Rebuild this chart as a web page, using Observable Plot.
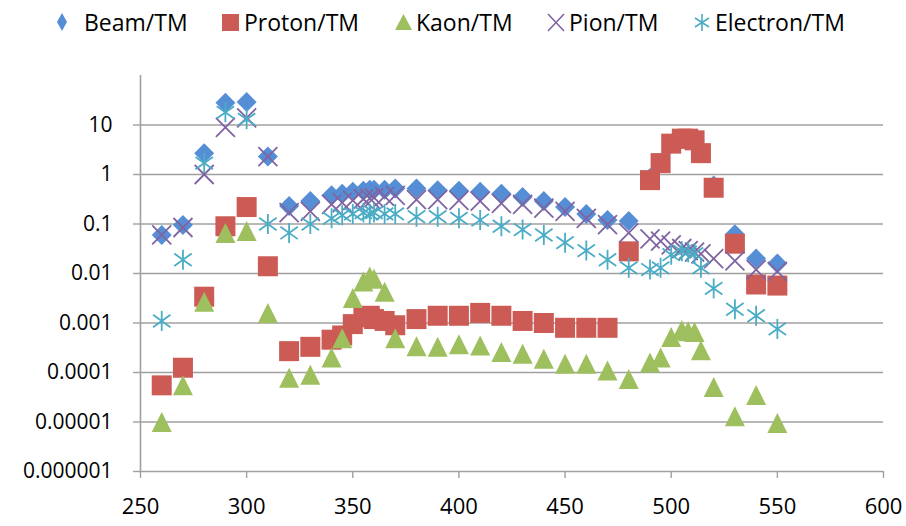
<!DOCTYPE html>
<html><head><meta charset="utf-8">
<script src="https://cdn.jsdelivr.net/npm/d3@7"></script>
<script src="https://cdn.jsdelivr.net/npm/@observablehq/plot@0.6"></script>
<style>
body{margin:0;background:#fff;font-family:"Open Sans",sans-serif;}
#legend{position:relative;height:46px;width:906px;font-size:23px;color:#000;}
.item{position:absolute;top:0;height:44px;display:flex;align-items:center;white-space:nowrap;}
.item svg{display:block;}
#chart svg{display:block;}
</style></head><body>
<div id="legend"></div>
<div id="chart"></div>
<script>
// ---- data ----
const energy = [260,270,280,290,300,310,320,330,340,345,350,355,358,360,365,370,380,390,400,410,420,430,440,450,460,470,480,490,495,500,505,508,511,514,520,530,540,550];
const beam     = [0.06,0.095,2.7,28,29,2.3,0.23,0.29,0.38,0.41,0.45,0.47,0.49,0.49,0.49,0.52,0.52,0.48,0.47,0.45,0.41,0.35,0.29,0.22,0.16,0.12,0.115,0.85,1.7,4.2,5.3,5.3,4.9,2.7,0.6,0.062,0.02,0.016];
const proton   = [5.5e-5,1.25e-4,0.0034,0.09,0.22,0.014,2.7e-4,3.3e-4,4.6e-4,5.6e-4,9.5e-4,0.0013,0.0014,0.0012,0.0011,9e-4,0.0012,0.0014,0.0014,0.0016,0.0014,0.0011,0.001,8e-4,8e-4,8e-4,0.028,0.77,1.7,4.2,5.3,5.3,4.9,2.7,0.54,0.04,0.006,0.0057];
const kaon     = [1e-5,5.5e-5,0.0027,0.066,0.072,0.0016,7.8e-5,9e-5,2.0e-4,4.9e-4,0.0032,0.0069,0.0087,0.0078,0.0043,4.9e-4,3.4e-4,3.3e-4,3.7e-4,3.5e-4,2.6e-4,2.4e-4,1.9e-4,1.5e-4,1.5e-4,1.1e-4,7.4e-5,1.6e-4,2.0e-4,5.2e-4,7.2e-4,6.8e-4,6.6e-4,2.8e-4,5.1e-5,1.3e-5,3.5e-5,9.5e-6];
const pion     = [0.06,0.085,1.0,9,14,2.3,0.17,0.18,0.25,0.27,0.3,0.32,0.33,0.34,0.36,0.38,0.31,0.31,0.3,0.29,0.26,0.25,0.21,0.18,0.13,0.097,0.066,0.05,0.045,0.038,0.032,0.029,0.027,0.025,0.02,0.018,0.012,0.011];
const electron = [0.0011,0.019,1.7,18,13,0.1,0.066,0.1,0.13,0.15,0.16,0.17,0.16,0.17,0.16,0.16,0.14,0.14,0.13,0.12,0.09,0.077,0.06,0.042,0.029,0.019,0.013,0.012,0.013,0.024,0.028,0.027,0.025,0.013,0.005,0.0019,0.0014,0.00076];

const seriesNames  = ["Beam/TM","Proton/TM","Kaon/TM","Pion/TM","Electron/TM"];
const seriesValues = [beam, proton, kaon, pion, electron];
const seriesColors = ["#558ED5","#CC5B55","#9EBF5E","#8064A2","#4BACC6"];

const xTicks = [250,300,350,400,450,500,550,600];
const yTicks = [1e-6,1e-5,1e-4,1e-3,1e-2,1e-1,1,10];
const yTickLabels = ["0.000001","0.00001","0.0001","0.001","0.01","0.1","1","10"];
const yLabel = d => yTickLabels[Math.round(Math.log10(d)) + 6];

// ---- marker shapes ----
function sym(fn){ return {draw(c,size){ fn(c, Math.sqrt(size/Math.PI)); }}; }
const diamondSym = sym((c,h)=>{c.moveTo(0,-h);c.lineTo(h,0);c.lineTo(0,h);c.lineTo(-h,0);c.closePath();});
const squareSym  = sym((c,h)=>{c.moveTo(-h,-h);c.lineTo(h,-h);c.lineTo(h,h);c.lineTo(-h,h);c.closePath();});
const triSym     = sym((c,h)=>{c.moveTo(0,-h);c.lineTo(h,h);c.lineTo(-h,h);c.closePath();});
const timesSym   = sym((c,h)=>{c.moveTo(-h,-h);c.lineTo(h,h);c.moveTo(-h,h);c.lineTo(h,-h);});
const starSym    = sym((c,h)=>{c.moveTo(0,-h);c.lineTo(0,h);c.moveTo(-0.87*h,-0.62*h);c.lineTo(0.87*h,0.62*h);c.moveTo(-0.87*h,0.62*h);c.lineTo(0.87*h,-0.62*h);});
const styles = [
  {symbol:diamondSym, r:10, filled:true},
  {symbol:squareSym,  r:10, filled:true},
  {symbol:triSym,     r:10, filled:true},
  {symbol:timesSym,   r:9.5, filled:false},
  {symbol:starSym,    r:10, filled:false}
];

// ---- legend ----
const legendPos = [[56,84],[221,244],[394,416],[547,569],[693,715]];
const legendPaths = [
  "M5,0 L10,9 L5,18 L0,9 Z",
  "M0,0 H17 V17 H0 Z",
  "M8.5,0 L17,16 L0,16 Z",
  "M0,0 L16,17 M0,17 L16,0",
  "M8,0 V17 M1,4 L15,13 M1,13 L15,4"
];
const legendSize = [[10,18],[17,17],[17,16],[16,17],[16,17]];
const legend = document.getElementById("legend");
seriesNames.forEach((name,i)=>{
  const [w,h] = legendSize[i];
  const filled = styles[i].filled;
  const mk = document.createElement("div");
  mk.className="item"; mk.style.left = legendPos[i][0]+"px";
  mk.innerHTML = `<svg width="${w+2}" height="${h+2}" viewBox="-1 -1 ${w+2} ${h+2}"><path d="${legendPaths[i]}" fill="${filled?seriesColors[i]:"none"}" stroke="${filled?"none":seriesColors[i]}" stroke-width="1.6"/></svg>`;
  legend.appendChild(mk);
  const tx = document.createElement("div");
  tx.className="item"; tx.style.left = legendPos[i][1]+"px"; tx.textContent = name;
  legend.appendChild(tx);
});

// ---- chart ----
const gridColor = "#a0a0a0";
const chart = Plot.plot({
  width: 906, height: 480,
  marginLeft: 140, marginRight: 23, marginTop: 29, marginBottom: 55,
  style: {fontFamily: "'Open Sans', sans-serif", fontSize: "21px", color: "#000", background: "#fff"},
  x: {domain: [250, 600], label: null},
  y: {type: "log", domain: [1e-6, 100], label: null},
  marks: [
    Plot.gridY(yTicks.slice(1), {stroke: gridColor, strokeOpacity: 1, strokeWidth: 1.6}),
    Plot.axisY(yTicks, {stroke: gridColor, strokeOpacity: 1, strokeWidth: 1.4, tickSize: 7, tickPadding: 21, fontSize: 21, fill: "#000", label: null, tickFormat: yLabel}),
    Plot.axisX(xTicks, {stroke: gridColor, strokeOpacity: 1, strokeWidth: 1.4, tickSize: 7, tickPadding: 20, fontSize: 22, fill: "#000", label: null, tickFormat: d => String(d)}),
    Plot.ruleY([1e-6], {stroke: gridColor, strokeWidth: 1.6}),
    Plot.ruleX([250], {stroke: gridColor, strokeWidth: 1.6}),
    ...seriesValues.map((vals, i) => Plot.dot(
      energy.map((x, j) => ({x, y: vals[j]})),
      {x: "x", y: "y", symbol: styles[i].symbol, r: styles[i].r,
       fill: styles[i].filled ? seriesColors[i] : "none",
       stroke: styles[i].filled ? "none" : seriesColors[i],
       strokeWidth: 1.8}
    ))
  ]
});
document.getElementById("chart").appendChild(chart);
</script>
</body></html>
